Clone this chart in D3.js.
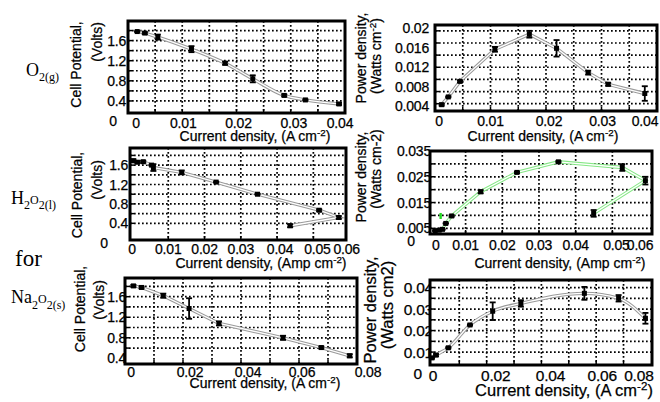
<!DOCTYPE html>
<html><head><meta charset="utf-8">
<script src="https://cdn.jsdelivr.net/npm/d3@7"></script>
<style>
body{margin:0;background:#fff;}
svg{display:block;}
text{font-family:"Liberation Sans",Arial,Helvetica,sans-serif;fill:#000;}
.sans{stroke:#000;stroke-width:0.25;}
.serif{font-family:"Liberation Serif","Times New Roman",serif;}
</style></head><body>
<svg id="chart" width="660" height="402"></svg>
<script>
// ---------------- data ----------------
// O2(g): cell potential vs current density
const o2PotX   = [0.0017,0.0031,0.0055,0.0117,0.0179,0.0230,0.0288,0.0327,0.0389];
const o2PotY   = [1.78,1.75,1.67,1.43,1.15,0.84,0.51,0.42,0.34];
const o2PotErr = [0.01,0.02,0.05,0.06,0.03,0.07,0.02,0.01,0.02];
// O2(g): power density
const o2PowX   = [0.0012,0.0024,0.0045,0.0108,0.0170,0.0219,0.0276,0.0312,0.0378];
const o2PowY   = [0.0043,0.0059,0.0091,0.0157,0.0188,0.0159,0.0109,0.0085,0.0066];
const o2PowErr = [0.0002,0.0001,0.0002,0.0005,0.0007,0.0017,0.0004,0.0003,0.0015];
// H2O2(l): cell potential (measurement order)
const h2o2PotX   = [0.0004,0.0015,0.0031,0.0054,0.0059,0.0137,0.0232,0.0346,0.0516,0.0570,0.0436];
const h2o2PotY   = [1.69,1.66,1.67,1.60,1.55,1.45,1.25,1.00,0.67,0.52,0.35];
const h2o2PotErr = [0.03,0.02,0.02,0.01,0.07,0.04,0.01,0.01,0.02,0.03,0.03];
// H2O2(l): power density (measurement order)
const h2o2PowX   = [0.0017,0.0028,0.0037,0.0046,0.0062,0.0141,0.0240,0.0353,0.0527,0.0590,0.0449];
const h2o2PowY   = [0.0041,0.0043,0.0046,0.0069,0.0098,0.0192,0.0267,0.0308,0.0286,0.0235,0.0108];
const h2o2PowErr = [0.0002,0.0002,0.0002,0.0001,0.0003,0.0006,0.0003,0.0003,0.0013,0.0015,0.0013];
const h2o2OutlierX = [0.0032];
const h2o2OutlierY = [0.0098];
// Na2O2(s): cell potential
const na2o2PotX   = [0.0029,0.0057,0.0132,0.0221,0.0324,0.0545,0.0677,0.0775];
const na2o2PotY   = [1.81,1.78,1.62,1.37,1.08,0.80,0.61,0.45];
const na2o2PotErr = [0.02,0.02,0.04,0.20,0.04,0.04,0.02,0.03];
// Na2O2(s): power density
const na2o2PowX   = [0.0000,0.0015,0.0060,0.0139,0.0222,0.0325,0.0557,0.0682,0.0780];
const na2o2PowY   = [0.0073,0.0086,0.0120,0.0226,0.0290,0.0326,0.0373,0.0350,0.0257];
const na2o2PowErr = [0.0004,0.0005,0.0003,0.0003,0.0041,0.0015,0.0030,0.0015,0.0025];

// tick labels
const xTicks04 = [0,0.01,0.02,0.03,0.04];
const xTicks06 = [0,0.01,0.02,0.03,0.04,0.05,0.06];
const xTicks08 = [0,0.02,0.04,0.06,0.08];
const potTicks = [0.4,0.8,1.2,1.6];
const o2PowTicks = [0.004,0.008,0.012,0.016,0.02];
const h2o2PowTicks = [0.005,0.015,0.025,0.035];
const na2o2PowTicks = [0.01,0.02,0.03,0.04];
// grid values
const potGridY = [0.4,0.6,0.8,1.0,1.2,1.4,1.6,1.8];
const na2o2PotGridY = [0.6,0.8,1.0,1.2,1.4,1.6,1.8];
const o2PowGridY = [0.0045,0.007,0.0095,0.012,0.0145,0.017,0.0195];
const h2o2PowGridY = [0.005,0.01,0.015,0.02,0.025,0.03];
const na2o2PowGridY = [0.01,0.015,0.02,0.025,0.03,0.035,0.04];
const grid04X = [0.005,0.01,0.015,0.02,0.025,0.03,0.035];
const grid06X = [0.01,0.02,0.03,0.04,0.05];
const grid08X = [0.01,0.02,0.03,0.04,0.05,0.06,0.07];

// ---------------- layout ----------------
const panels = [
 {xs:o2PotX, ys:o2PotY, es:o2PotErr, box:[128,21,345,113], xDom:[0,0.04], yDom:[0.16,1.99],
  xT:xTicks04, yT:potTicks, gx:grid04X, gy:potGridY, fs:14, yLdx:-2, xLy:128, xAdj:[8,1,2,3,-5], zero:[-11],
  curve:d3.curveMonotoneX, color:"#9a9a9a",
  yTitle:[["Cell Potential,",81,64.5],["(Volts)",102,42]], xTitle:["Current density, (A cm","-2",")",255,141]},
 {xs:o2PowX, ys:o2PowY, es:o2PowErr, box:[435,25,657,111], xDom:[0,0.04], yDom:[0.003,0.0207],
  xT:xTicks04, yT:o2PowTicks, gx:grid04X, gy:o2PowGridY, fs:14, yLdx:-6, xLy:126, xAdj:[4,0,3,1,-12], zero:null,
  curve:d3.curveLinear, color:"#9a9a9a",
  yTitle:[["Power density,",366,58],["(Watts cm","-2",")",381,56]], xTitle:["Current density, (A cm","-2",")",543,141]},
 {xs:h2o2PotX, ys:h2o2PotY, es:h2o2PotErr, box:[130,148,346,240], xDom:[-0.00055,0.059], yDom:[0.056,1.953],
  xT:xTicks06, yT:potTicks, gx:grid06X, gy:potGridY, fs:14, yLdx:-2, xLy:254, xAdj:[0,0,0,0,3,4,-3], zero:[-22],
  curve:d3.curveLinear, color:"#9a9a9a",
  yTitle:[["Cell Potential,",82,195],["(Volts)",102,180]], xTitle:["Current density, (Amp cm","-2",")",261,268]},
 {xs:h2o2PowX, ys:h2o2PowY, es:h2o2PowErr, box:[430,151,652,234], xDom:[0.0003,0.0608], yDom:[0.0028,0.035],
  xT:xTicks06, yT:h2o2PowTicks, gx:grid06X, gy:h2o2PowGridY, fs:14, yLdx:1, xLy:250, xAdj:[7,0,0,0,0,4,-9], zero:[-15],
  curve:d3.curveLinear, color:"#86e886",
  yTitle:[["Power density,",366,177],["(Watts cm-2)",381,169]], xTitle:["Current density, (Amp cm","-2",")",560,268]},
 {xs:na2o2PotX, ys:na2o2PotY, es:na2o2PotErr, box:[125,278,357,364], xDom:[0,0.08], yDom:[0.29,1.964],
  xT:xTicks08, yT:potTicks, gx:grid08X, gy:na2o2PotGridY, fs:14, yLdx:1, xLy:377, xAdj:[6,7,7,3,11], zero:null,
  curve:d3.curveLinear, color:"#9a9a9a",
  yTitle:[["Cell Potential,",85,309],["(Volts)",104,300]], xTitle:["Current density, (A cm","-2",")",265,388]},
 {xs:na2o2PowX, ys:na2o2PowY, es:na2o2PowErr, box:[430,280,652,365], xDom:[-0.0007,0.0804], yDom:[0.004,0.0435],
  xT:xTicks08, yT:na2o2PowTicks, gx:grid08X, gy:na2o2PowGridY, fs:15.5, yLdx:3, xLy:381, xAdj:[1,9,9,6,-12], zero:[-8],
  curve:d3.curveMonotoneX, color:"#9a9a9a",
  yTitle:[["Power density,",376,310],["(Watts cm2)",393,305]], xTitle:["Current density, (A cm","-2",")",564,396]}
];

const svg = d3.select("#chart");

function addText(g, parts, x, y, fs, rotate){
  const t = g.append("text").attr("class","sans").attr("font-size",fs).attr("text-anchor","middle")
    .attr("transform", rotate ? `translate(${x},${y}) rotate(-90)` : `translate(${x},${y})`);
  if (parts.length === 1) { t.text(parts[0]); return t; }
  t.append("tspan").text(parts[0]);
  t.append("tspan").attr("font-size",fs*0.7).attr("dy",-fs*0.38).text(parts[1]);
  t.append("tspan").attr("dy",fs*0.38).text(parts[2]);
  return t;
}

panels.forEach((p, idx) => {
  const [l,t,r,b] = p.box;
  const x = d3.scaleLinear().domain(p.xDom).range([l,r]);
  const y = d3.scaleLinear().domain(p.yDom).range([b,t]);
  const g = svg.append("g");

  // y tick labels (drawn first so the frame can overlap them)
  const ya = g.append("g").attr("transform",`translate(${l+p.yLdx},0)`)
    .call(d3.axisLeft(y).tickValues(p.yT).tickSize(0).tickPadding(0).tickFormat(d=>String(d)));
  ya.select(".domain").remove();
  ya.selectAll("text").attr("class","sans").attr("font-size",p.fs).attr("font-family",null).attr("letter-spacing","-0.2");
  if (p.zero) {
    g.append("text").attr("class","sans").attr("x", l + p.zero[0]).attr("y", y(0)).attr("dy","0.35em")
      .attr("text-anchor","end").attr("font-size",p.fs).text("0");
  }

  // plot background
  g.append("rect").attr("x",l).attr("y",t).attr("width",r-l).attr("height",b-t).attr("fill","#fff");

  // dotted grid
  g.append("g").selectAll("line").data(p.gx).join("line")
    .attr("x1",d=>x(d)).attr("x2",d=>x(d)).attr("y1",t).attr("y2",b)
    .attr("stroke","#000").attr("stroke-width",1.7).attr("stroke-dasharray","1.7,2.3");
  g.append("g").selectAll("line").data(p.gy).join("line")
    .attr("x1",l).attr("x2",r).attr("y1",d=>y(d)).attr("y2",d=>y(d))
    .attr("stroke","#000").attr("stroke-width",1.7).attr("stroke-dasharray","1.7,2.3");
  // small inward ticks on the frame at grid positions
  g.append("g").selectAll("line").data(p.gx).join("line")
    .attr("x1",d=>x(d)).attr("x2",d=>x(d)).attr("y1",b).attr("y2",b-4)
    .attr("stroke","#000").attr("stroke-width",1.5);
  g.append("g").selectAll("line").data(p.gy).join("line")
    .attr("x1",l).attr("x2",l+4).attr("y1",d=>y(d)).attr("y2",d=>y(d))
    .attr("stroke","#000").attr("stroke-width",1.5);

  // double connecting line
  const pts = p.xs.map((v,i)=>[v,p.ys[i]]);
  const line = d3.line().x(d=>x(d[0])).y(d=>y(d[1])).curve(p.curve);
  g.append("path").attr("d",line(pts)).attr("fill","none").attr("stroke",p.color).attr("stroke-width",3.4);
  g.append("path").attr("d",line(pts)).attr("fill","none").attr("stroke","#fff").attr("stroke-width",1.3);

  // error bars
  const eg = g.append("g").attr("stroke","#000").attr("stroke-width",1.8);
  pts.forEach((d,i)=>{
    const e = p.es[i], cx = x(d[0]), y1 = y(d[1]-e), y2 = y(d[1]+e);
    eg.append("line").attr("x1",cx).attr("x2",cx).attr("y1",y1).attr("y2",y2);
    eg.append("line").attr("x1",cx-3).attr("x2",cx+3).attr("y1",y1).attr("y2",y1);
    eg.append("line").attr("x1",cx-3).attr("x2",cx+3).attr("y1",y2).attr("y2",y2);
  });
  // markers
  g.append("g").selectAll("rect").data(pts).join("rect")
    .attr("x",d=>x(d[0])-2.5).attr("y",d=>y(d[1])-2.5).attr("width",5).attr("height",5).attr("fill","#000");

  if (idx === 3) {
    g.append("g").selectAll("rect").data(h2o2OutlierX.map((v,i)=>[v,h2o2OutlierY[i]])).join("rect")
      .attr("x",d=>x(d[0])-1.2).attr("y",d=>y(d[1])-3).attr("width",2.4).attr("height",6).attr("fill","#1ed81e");
  }

  // frame
  g.append("rect").attr("x",l).attr("y",t).attr("width",r-l).attr("height",b-t)
    .attr("fill","none").attr("stroke","#000").attr("stroke-width",3);

  // x tick labels
  g.append("g").selectAll("text").data(p.xT).join("text").attr("class","sans")
    .attr("x",(d,i)=>x(d)+p.xAdj[i]).attr("y",p.xLy).attr("text-anchor","middle")
    .attr("font-size",p.fs).attr("letter-spacing","-0.2").text(d=>String(d));

  // titles
  const ft = p.fs > 15 ? 16.5 : 14;
  const yt = p.yTitle;
  addText(g,[yt[0][0]],yt[0][1],yt[0][2],ft,true);
  if (yt[1].length === 3) addText(g,[yt[1][0]],yt[1][1],yt[1][2],ft,true);
  else addText(g,[yt[1][0],yt[1][1],yt[1][2]],yt[1][3],yt[1][4],ft,true);
  const xt = p.xTitle;
  addText(g,[xt[0],xt[1],xt[2]],xt[3],xt[4],ft,false);
});

// row labels (chemical species)
function species(parts, x, y){
  const t = svg.append("text").attr("class","serif").attr("x",x).attr("y",y).attr("font-size",18);
  parts.forEach(pt=>{
    const ts = t.append("tspan").text(pt[0]);
    if (pt[1]) ts.attr("font-size",12).attr("dy",pt[1]);
  });
}
species([["O"],["2(g)",5]], 26, 76);
species([["H"],["2",5],["O",-5],["2(l)",5]], 11, 204);
svg.append("text").attr("class","serif").attr("x",15).attr("y",266).attr("font-size",23).text("for");
species([["Na"],["2",6],["O",-6],["2(s)",6]], 11, 303);
</script>
</body></html>
